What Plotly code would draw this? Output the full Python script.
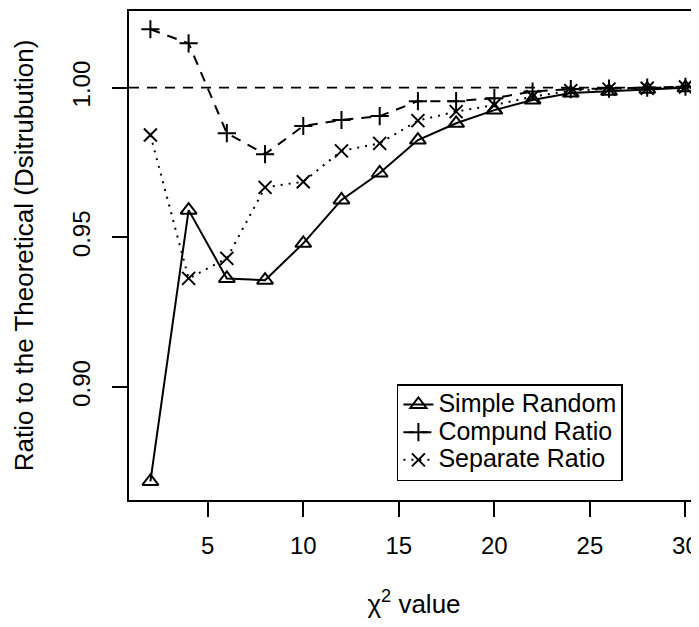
import plotly.graph_objects as go

chi2_values = [2, 4, 6, 8, 10, 12, 14, 16, 18, 20, 22, 24, 26, 28, 30]
simple_random = [0.8685, 0.9591, 0.9363, 0.9357, 0.9480, 0.9625, 0.9715, 0.9825,
                 0.9881, 0.9925, 0.9959, 0.9982, 0.9988, 0.9995, 1.0000]
compound_ratio = [1.0195, 1.0148, 0.9848, 0.9778, 0.9872, 0.9892, 0.9905, 0.9955,
                  0.9955, 0.9965, 0.9987, 0.9995, 0.9997, 1.0000, 1.0003]
separate_ratio = [0.9842, 0.9363, 0.9430, 0.9667, 0.9686, 0.9789, 0.9814, 0.9890,
                  0.9920, 0.9942, 0.9970, 0.9990, 0.9995, 0.9998, 1.0002]
series_names = ["Simple Random", "Compund Ratio", "Separate Ratio"]
reference_level = 1.0
x_ticks = [5, 10, 15, 20, 25, 30]
y_ticks = [0.90, 0.95, 1.00]
y_tick_labels = ["0.90", "0.95", "1.00"]

FONT = "Liberation Sans, Arial, Helvetica, sans-serif"
BLACK = "#000000"


def legend_name(name):
    return '<span style="font-size:25px">' + name + '</span>'


fig = go.Figure()

fig.add_trace(go.Scatter(
    x=chi2_values, y=simple_random, name=legend_name(series_names[0]),
    mode="lines+markers",
    line=dict(color=BLACK, width=2, dash="solid"),
    marker=dict(symbol="triangle-up-open", size=14, color=BLACK,
                line=dict(color=BLACK, width=2)),
))
fig.add_trace(go.Scatter(
    x=chi2_values, y=compound_ratio, name=legend_name(series_names[1]),
    mode="lines+markers",
    line=dict(color=BLACK, width=2, dash="10px,8px"),
    marker=dict(symbol="cross-thin-open", size=13, color=BLACK,
                line=dict(color=BLACK, width=2)),
))
fig.add_trace(go.Scatter(
    x=chi2_values, y=separate_ratio, name=legend_name(series_names[2]),
    mode="lines+markers",
    line=dict(color=BLACK, width=2, dash="2px,6px"),
    marker=dict(symbol="x-thin-open", size=13, color=BLACK,
                line=dict(color=BLACK, width=2)),
))

fig.add_shape(type="line", xref="paper", x0=0, x1=1, yref="y",
              y0=reference_level, y1=reference_level,
              line=dict(color=BLACK, width=1.6, dash="10px,8px"), layer="below")

# The page body has an 8px margin; the figure is sized so that its plot
# area lands where the reference shows it in the 699x627 window.
fig.update_layout(
    width=691, height=611,
    margin=dict(l=121, r=0, t=3, b=119),
    paper_bgcolor="white", plot_bgcolor="white",
    font=dict(family=FONT, size=24, color=BLACK),
    showlegend=True,
    legend=dict(
        x=0.47, y=0.237, xanchor="left", yanchor="top",
        bordercolor=BLACK, borderwidth=1.5, bgcolor="white",
        font=dict(family=FONT, size=19, color=BLACK),
        itemwidth=30, tracegroupgap=0,
    ),
    xaxis=dict(
        range=[0.88, 30.71], tickmode="array", tickvals=x_ticks,
        ticks="outside", ticklen=15, tickwidth=2, tickcolor=BLACK,
        ticklabelstandoff=8,
        showline=True, linecolor=BLACK, linewidth=2, mirror=True,
        showgrid=False, zeroline=False,
        title=dict(text="χ<sup>2</sup> value", standoff=39,
                   font=dict(family=FONT, size=26)),
    ),
    yaxis=dict(
        range=[0.8623, 1.0256], tickmode="array", tickvals=y_ticks,
        ticktext=y_tick_labels, tickangle=-90,
        ticks="outside", ticklen=15, tickwidth=2, tickcolor=BLACK,
        ticklabelstandoff=12,
        showline=True, linecolor=BLACK, linewidth=2, mirror=False,
        showgrid=False, zeroline=False,
        title=dict(text="Ratio to the Theoretical (Dsitrubution)", standoff=27,
                   font=dict(family=FONT, size=26)),
    ),
)

fig.write_html("out.html")
